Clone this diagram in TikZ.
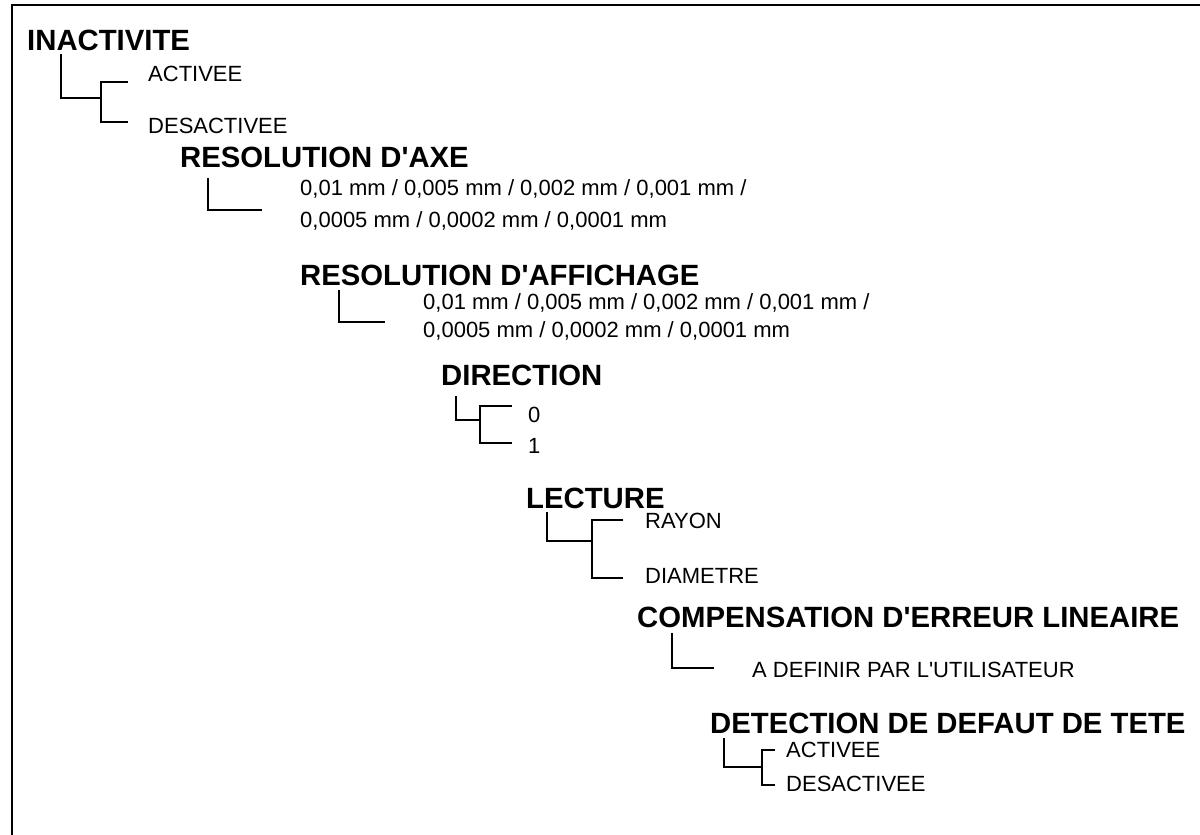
\documentclass[tikz,border=0pt]{standalone}
\usepackage{fontspec}
\setmainfont{Liberation Sans}[Ligatures=TeXOff]
\begin{document}
\begin{tikzpicture}[x=1pt,y=-1pt,
  head/.style={anchor=base west,inner sep=0pt,font=\fontsize{29.3}{34}\selectfont\bfseries},
  item/.style={anchor=base west,inner sep=0pt,font=\fontsize{22}{26}\selectfont},
  link/.style={line width=2.2pt,line join=miter},
  frame/.style={line width=2.6pt}]
\useasboundingbox (0,0) rectangle (1200,835);
% frame
\coordinate (fb) at (12,835);
\coordinate (ftl) at (12,5);
\coordinate (fr) at (1200,5);
\draw[frame] (fb) -- (ftl) -- (fr);

% INACTIVITE
\node[head] (h1) at (27,50) {INACTIVITE};
\node[item] (h1a) at (148,81) {ACTIVEE};
\node[item] (h1b) at (148,133) {DESACTIVEE};
\coordinate (b1s) at (61,54);
\coordinate (b1t) at (128,82);
\coordinate (b1b) at (128,122);
\draw[link] (b1s) |- (101,98);
\draw[link] (b1t) -| (101,122) -- (b1b);

% RESOLUTION D'AXE
\node[head] (h2) at (180,167) {RESOLUTION D'AXE};
\node[item] (h2a) at (300,195) {0,01 mm / 0,005 mm / 0,002 mm / 0,001 mm /};
\node[item] (h2b) at (300,227) {0,0005 mm / 0,0002 mm / 0,0001 mm};
\coordinate (b2s) at (208,178);
\coordinate (b2e) at (262,210);
\draw[link] (b2s) |- (b2e);

% RESOLUTION D'AFFICHAGE
\node[head] (h3) at (300,285) {RESOLUTION D'AFFICHAGE};
\node[item] (h3a) at (423,309) {0,01 mm / 0,005 mm / 0,002 mm / 0,001 mm /};
\node[item] (h3b) at (423,337) {0,0005 mm / 0,0002 mm / 0,0001 mm};
\coordinate (b3s) at (339,290);
\coordinate (b3e) at (385,322);
\draw[link] (b3s) |- (b3e);

% DIRECTION
\node[head] (h4) at (441,385) {DIRECTION};
\node[item] (h4a) at (528,422) {0};
\node[item] (h4b) at (528,453) {1};
\coordinate (b4s) at (456,396);
\coordinate (b4t) at (512,406);
\coordinate (b4b) at (512,443);
\draw[link] (b4s) |- (480,420);
\draw[link] (b4t) -| (480,443) -- (b4b);

% LECTURE
\node[head] (h5) at (526,508) {LECTURE};
\node[item] (h5a) at (645,528) {RAYON};
\node[item] (h5b) at (645,583) {DIAMETRE};
\coordinate (b5s) at (547,512);
\coordinate (b5t) at (623,520);
\coordinate (b5b) at (623,578);
\draw[link] (b5s) |- (592,541);
\draw[link] (b5t) -| (592,578) -- (b5b);

% COMPENSATION
\node[head] (h6) at (637,627) {COMPENSATION D'ERREUR LINEAIRE};
\node[item] (h6a) at (752,677) {A DEFINIR PAR L'UTILISATEUR};
\coordinate (b6s) at (672,633);
\coordinate (b6e) at (714,668);
\draw[link] (b6s) |- (b6e);

% DETECTION
\node[head] (h7) at (710,733) {DETECTION DE DEFAUT DE TETE};
\node[item] (h7a) at (786,757) {ACTIVEE};
\node[item] (h7b) at (786,791) {DESACTIVEE};
\coordinate (b7s) at (724,738);
\coordinate (b7t) at (775,750);
\coordinate (b7b) at (775,785);
\draw[link] (b7s) |- (762,767);
\draw[link] (b7t) -| (762,785) -- (b7b);
\end{tikzpicture}
\end{document}
